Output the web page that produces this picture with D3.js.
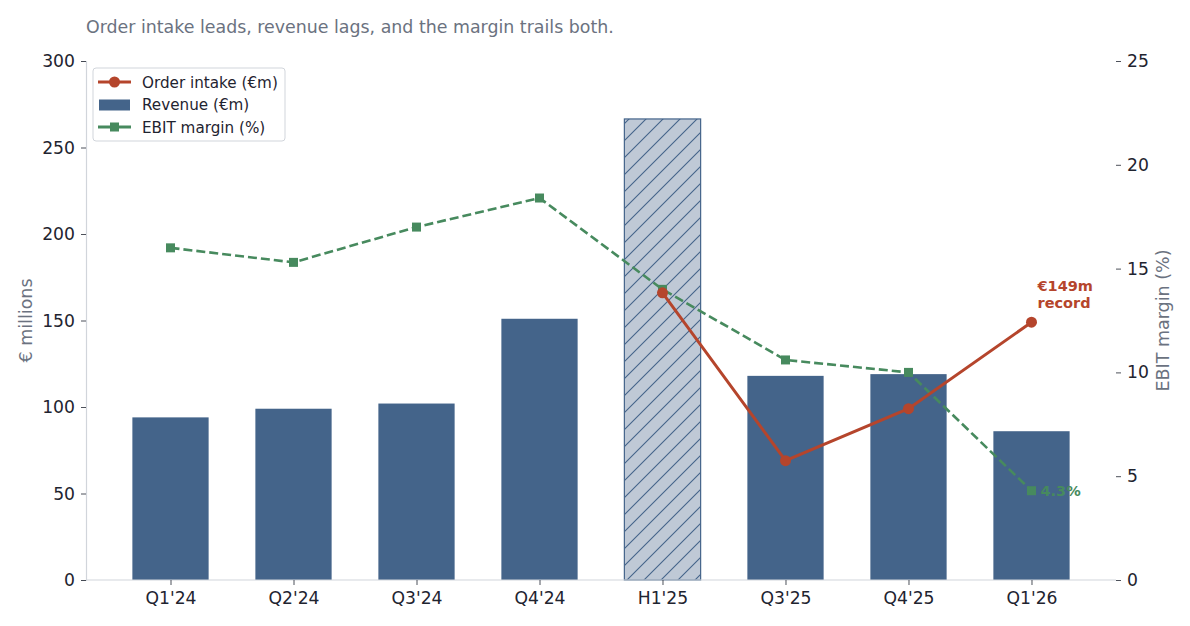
<!DOCTYPE html>
<html>
<head>
<meta charset="utf-8">
<script src="https://cdn.jsdelivr.net/npm/d3@7"></script>
<style>
  body { margin: 0; background: #fff; }
  svg { font-family: "DejaVu Sans", sans-serif; }
</style>
</head>
<body>
<div id="chart"></div>
<script>
// data
var quarters = ["Q1'24", "Q2'24", "Q3'24", "Q4'24", "H1'25", "Q3'25", "Q4'25", "Q1'26"];
var revenue = [94, 99, 102, 151, 266.5, 118, 119, 86];
var orderIntake = [null, null, null, null, 166, 69, 99, 149];
var ebitMargin = [16.0, 15.3, 17.0, 18.4, 14.0, 10.6, 10.0, 4.3];
var leftTicks = [0, 50, 100, 150, 200, 250, 300];
var rightTicks = [0, 5, 10, 15, 20, 25];
var hatchedCat = "H1'25";

var width = 1190, height = 626;
var margin = {left: 86, right: 74, top: 61, bottom: 46};

var red = "#b5452c", blue = "#44648a", green = "#478a5e";
var gray = "#6b7280", dark = "#1f2430", spine = "#d1d5db";

var svg = d3.select("#chart").append("svg")
  .attr("width", width).attr("height", height);

var defs = svg.append("defs");
var pat = defs.append("pattern")
  .attr("id", "hatch")
  .attr("patternUnits", "userSpaceOnUse")
  .attr("width", 17).attr("height", 17);
pat.append("rect").attr("width", 17).attr("height", 17).attr("fill", "#bfc9d6");
pat.append("path").attr("d", "M-2,19 L19,-2 M-2,2 L2,-2 M15,19 L19,15")
  .attr("stroke", blue).attr("stroke-width", 1.1);

var x = d3.scalePoint()
  .domain(quarters)
  .range([margin.left, width - margin.right])
  .padding(0.687);
var barW = x.step() * 0.62;

var y = d3.scaleLinear().domain([0, 300]).range([height - margin.bottom, margin.top]);
var y2 = d3.scaleLinear().domain([0, 25]).range([height - margin.bottom, margin.top]);

// title
svg.append("text")
  .attr("x", margin.left).attr("y", 33)
  .attr("fill", gray).attr("font-size", 17.4)
  .text("Order intake leads, revenue lags, and the margin trails both.");

// bars
svg.selectAll("rect.bar")
  .data(quarters)
  .enter().append("rect")
  .attr("class", "bar")
  .attr("x", function(d){ return x(d) - barW / 2; })
  .attr("width", barW)
  .attr("y", function(d, i){ return y(revenue[i]); })
  .attr("height", function(d, i){ return y(0) - y(revenue[i]); })
  .attr("fill", function(d){ return d == hatchedCat ? "url(#hatch)" : blue; })
  .attr("stroke", function(d){ return d == hatchedCat ? blue : "none"; })
  .attr("stroke-width", 1.2);

// axes
var leftAxis = svg.append("g")
  .attr("transform", "translate(" + margin.left + ",0)")
  .call(d3.axisLeft(y).tickValues(leftTicks).tickSize(5).tickPadding(6));
var rightAxis = svg.append("g")
  .attr("transform", "translate(" + (width - margin.right) + ",0)")
  .call(d3.axisRight(y2).tickValues(rightTicks).tickSize(5).tickPadding(6));
var bottomAxis = svg.append("g")
  .attr("transform", "translate(0," + (height - margin.bottom) + ")")
  .call(d3.axisBottom(x).tickSize(5).tickPadding(7));

[leftAxis, rightAxis, bottomAxis].forEach(function(a){
  a.selectAll("text").attr("font-size", 17.2).attr("fill", dark).attr("font-family", "DejaVu Sans");
  a.selectAll(".tick line").attr("stroke", dark).attr("stroke-width", 0.8);
  a.select(".domain").attr("stroke", spine).attr("stroke-width", 1.2);
});
rightAxis.select(".domain").remove();
bottomAxis.select(".domain").attr("d", "M" + margin.left + ",0H" + (width - margin.right));

// axis labels
svg.append("text")
  .attr("transform", "translate(32," + ((margin.top + height - margin.bottom) / 2) + ") rotate(-90)")
  .attr("text-anchor", "middle").attr("fill", gray).attr("font-size", 17.5)
  .text("€ millions");
svg.append("text")
  .attr("transform", "translate(1169," + ((margin.top + height - margin.bottom) / 2) + ") rotate(-90)")
  .attr("text-anchor", "middle").attr("fill", gray).attr("font-size", 17.5)
  .text("EBIT margin (%)");

// EBIT margin line
var ebitLine = d3.line()
  .x(function(d, i){ return x(quarters[i]); })
  .y(function(d){ return y2(d); });
svg.append("path")
  .datum(ebitMargin)
  .attr("d", ebitLine)
  .attr("fill", "none").attr("stroke", green)
  .attr("stroke-width", 2.6).attr("stroke-dasharray", "9,4");
svg.selectAll("rect.ebit")
  .data(ebitMargin)
  .enter().append("rect")
  .attr("class", "ebit")
  .attr("x", function(d, i){ return x(quarters[i]) - 4.5; })
  .attr("y", function(d){ return y2(d) - 4.5; })
  .attr("width", 9).attr("height", 9)
  .attr("fill", green);

// order intake line
var oiLine = d3.line()
  .defined(function(d){ return d != null; })
  .x(function(d, i){ return x(quarters[i]); })
  .y(function(d){ return y(d); });
svg.append("path")
  .datum(orderIntake)
  .attr("d", oiLine)
  .attr("fill", "none").attr("stroke", red).attr("stroke-width", 3);
svg.selectAll("circle.oi")
  .data(orderIntake.map(function(v, i){ return {v: v, q: quarters[i]}; }).filter(function(d){ return d.v != null; }))
  .enter().append("circle")
  .attr("class", "oi")
  .attr("cx", function(d){ return x(d.q); })
  .attr("cy", function(d){ return y(d.v); })
  .attr("r", 5.5)
  .attr("fill", red);

// annotations
var last = quarters.length - 1;
var ann = svg.append("text")
  .attr("x", x(quarters[last]) + 6).attr("y", y(orderIntake[last]) - 31)
  .attr("fill", red).attr("font-size", 14.5).attr("font-weight", "bold");
ann.append("tspan").text("€149m");
ann.append("tspan").attr("x", x(quarters[last]) + 6).attr("dy", 17).text("record");

svg.append("text")
  .attr("x", x(quarters[last]) + 9).attr("y", y2(ebitMargin[last]) + 5.5)
  .attr("fill", green).attr("font-size", 14.5).attr("font-weight", "bold")
  .text(ebitMargin[last] + "%");

// legend
var lg = svg.append("g").attr("transform", "translate(93,68)");
lg.append("rect")
  .attr("width", 192).attr("height", 73).attr("rx", 3)
  .attr("fill", "#fff").attr("fill-opacity", 0.85)
  .attr("stroke", "#d1d5db");
var items = [
  {label: "Order intake (€m)", type: "circle", color: red},
  {label: "Revenue (€m)", type: "bar", color: blue},
  {label: "EBIT margin (%)", type: "square", color: green}
];
items.forEach(function(it, i){
  var g = lg.append("g").attr("transform", "translate(0," + (14 + i * 22.5) + ")");
  if (it.type == "bar") {
    g.append("rect").attr("x", 6).attr("y", -5).attr("width", 31).attr("height", 11).attr("fill", it.color);
  } else {
    g.append("line").attr("x1", 5).attr("x2", 38).attr("y1", 0).attr("y2", 0)
      .attr("stroke", it.color).attr("stroke-width", 2.8);
    if (it.type == "circle") g.append("circle").attr("cx", 21.5).attr("r", 5.5).attr("fill", it.color);
    else g.append("rect").attr("x", 17).attr("y", -4.5).attr("width", 9).attr("height", 9).attr("fill", it.color);
  }
  g.append("text").attr("x", 49).attr("y", 5.5).attr("font-size", 15.2).attr("fill", dark).text(it.label);
});
</script>
</body>
</html>
